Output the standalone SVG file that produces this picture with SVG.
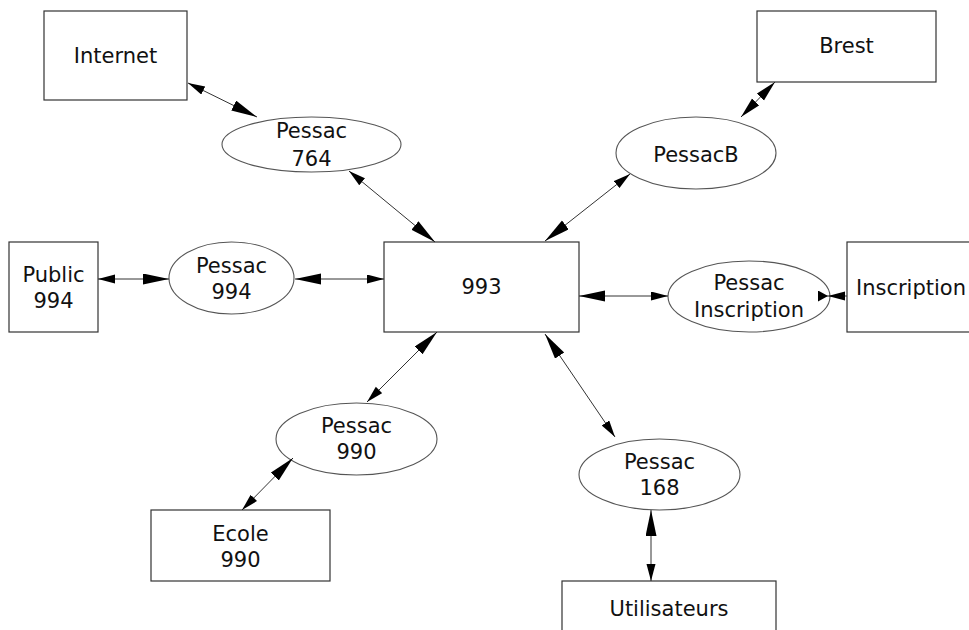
<svg xmlns="http://www.w3.org/2000/svg" width="969" height="630" viewBox="0 0 969 630">
<style>
.box{fill:#fff;stroke:#333;stroke-width:1.2}
.ell{fill:#fff;stroke:#555;stroke-width:1.1}
text{font-family:"DejaVu Sans","Liberation Sans",sans-serif;font-size:21px;fill:#111;text-anchor:middle}
.edge{fill:none;stroke:#333;stroke-width:1}
</style>
<defs>
<marker id="hs" markerUnits="userSpaceOnUse" markerWidth="18" markerHeight="10" refX="17" refY="4.5" orient="auto-start-reverse"><path d="M0,0 L17,4.5 L0,9 z" fill="#000"/></marker>
<marker id="hm" markerUnits="userSpaceOnUse" markerWidth="22" markerHeight="11" refX="21" refY="5" orient="auto-start-reverse"><path d="M0,0 L21,5 L0,10 z" fill="#000"/></marker>
<marker id="hl" markerUnits="userSpaceOnUse" markerWidth="27" markerHeight="12" refX="26" refY="5.5" orient="auto-start-reverse"><path d="M0,0 L26,5.5 L0,11 z" fill="#000"/></marker>
<marker id="ht" markerUnits="userSpaceOnUse" markerWidth="11" markerHeight="12" refX="10" refY="5.5" orient="auto-start-reverse"><path d="M0,0 L10,5.5 L0,11 z" fill="#000"/></marker>
</defs>
<rect width="969" height="630" fill="#fff"/>
<g id="internet"><rect class="box" x="44" y="11" width="143" height="89"/><text x="115.5" y="63">Internet</text></g>
<g id="brest"><rect class="box" x="757" y="11" width="179" height="71"/><text x="846.5" y="53">Brest</text></g>
<g id="pessac764"><ellipse class="ell" cx="311.5" cy="144.5" rx="89.5" ry="27.5"/><text x="311.5" y="138">Pessac</text><text x="311.5" y="166">764</text></g>
<g id="pessacB"><ellipse class="ell" cx="696" cy="153" rx="80" ry="36"/><text x="696" y="162">PessacB</text></g>
<g id="public994"><rect class="box" x="9" y="242" width="89" height="90"/><text x="53.5" y="282">Public</text><text x="53.5" y="308">994</text></g>
<g id="pessac994"><ellipse class="ell" cx="231.5" cy="278" rx="62.5" ry="36"/><text x="231.5" y="273">Pessac</text><text x="231.5" y="299">994</text></g>
<g id="n993"><rect class="box" x="384" y="242" width="195" height="90"/><text x="481.5" y="294">993</text></g>
<g id="pessacInscription"><ellipse class="ell" cx="749" cy="296.5" rx="81" ry="35.5"/><text x="749" y="290">Pessac</text><text x="749" y="317">Inscription</text></g>
<g id="inscription"><rect class="box" x="847" y="242" width="130" height="90"/><text x="911" y="295">Inscription</text></g>
<g id="pessac990"><ellipse class="ell" cx="356.5" cy="439" rx="80.5" ry="36"/><text x="356.5" y="433">Pessac</text><text x="356.5" y="459">990</text></g>
<g id="ecole990"><rect class="box" x="151" y="510" width="179" height="71"/><text x="240.5" y="541">Ecole</text><text x="240.5" y="567">990</text></g>
<g id="pessac168"><ellipse class="ell" cx="659.5" cy="474.5" rx="80.5" ry="35.5"/><text x="659.5" y="469">Pessac</text><text x="659.5" y="495">168</text></g>
<g id="utilisateurs"><rect class="box" x="562" y="581" width="214" height="70"/><text x="669" y="616">Utilisateurs</text></g>
<g id="connectors">
<path class="edge" d="M188,83 L257,117" marker-start="url(#hs)" marker-end="url(#hl)"/>
<path class="edge" d="M349,171 L435,242" marker-start="url(#hs)" marker-end="url(#hl)"/>
<path class="edge" d="M545,241 L630,174" marker-start="url(#hl)" marker-end="url(#hs)"/>
<path class="edge" d="M741,117 L775,82" marker-start="url(#hm)" marker-end="url(#hm)"/>
<path class="edge" d="M98,279 L169,279" marker-start="url(#hs)" marker-end="url(#hl)"/>
<path class="edge" d="M295,279 L384,279" marker-start="url(#hl)" marker-end="url(#hs)"/>
<path class="edge" d="M579,296 L668,296" marker-start="url(#hl)" marker-end="url(#hs)"/>
<path class="edge" d="M847,296 L828,296" marker-end="url(#hs)"/>
<path class="edge" d="M818,296 L828,296" marker-end="url(#ht)"/>
<path class="edge" d="M437,332 L367,402" marker-start="url(#hl)" marker-end="url(#hs)"/>
<path class="edge" d="M293,458 L242,510" marker-start="url(#hl)" marker-end="url(#hs)"/>
<path class="edge" d="M545,334 L615,437" marker-start="url(#hl)" marker-end="url(#hs)"/>
<path class="edge" d="M651,510 L651,581" marker-start="url(#hl)" marker-end="url(#hs)"/>
</g>
</svg>
